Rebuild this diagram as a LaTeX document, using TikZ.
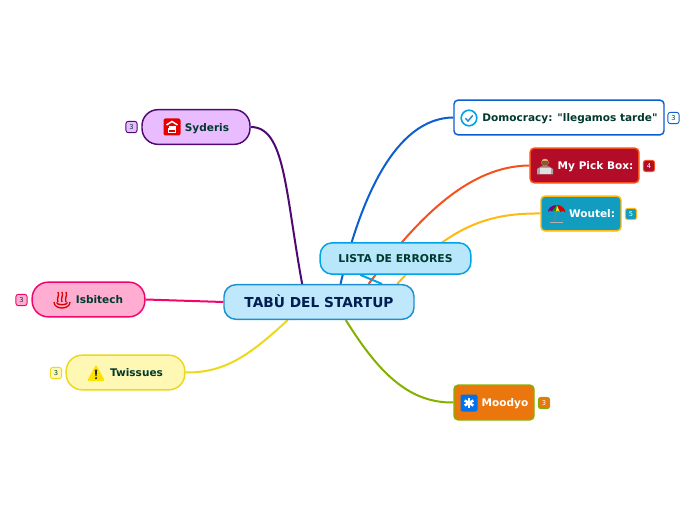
\documentclass[tikz,border=0pt]{standalone}
\usepackage{fontspec}
\setmainfont{DejaVu Sans}
\newfontfamily\straightfont{DejaVu Sans}
\usetikzlibrary{backgrounds}

\definecolor{inkgreen}{HTML}{00392E}
\definecolor{inknavy}{HTML}{001E50}
\definecolor{mainfill}{HTML}{BFE8FC}
\definecolor{mainline}{HTML}{1E90D0}
\definecolor{listafill}{HTML}{B8E6FA}
\definecolor{listaline}{HTML}{00A3E8}
\definecolor{domoline}{HTML}{0B5FD0}
\definecolor{pickline}{HTML}{F4511E}
\definecolor{pickfill}{HTML}{B30C28}
\definecolor{woutelline}{HTML}{FFB90F}
\definecolor{woutelfill}{HTML}{119CC0}
\definecolor{moodyoline}{HTML}{84B000}
\definecolor{moodyofill}{HTML}{EC760E}
\definecolor{syderisline}{HTML}{4E0A72}
\definecolor{syderisfill}{HTML}{E9BBFF}
\definecolor{isbitechline}{HTML}{F0046E}
\definecolor{isbitechfill}{HTML}{FFAED2}
\definecolor{twissuesline}{HTML}{ECD81C}
\definecolor{twissuesfill}{HTML}{FFF8B5}
\newcommand{\iconskip}{\hspace*{16.5pt}}

\tikzset{
    topic/.style={draw, rectangle, rounded corners=#1, line width=1.1pt, font=\bfseries\fontsize{7.9}{10}\selectfont, text=inkgreen, inner sep=0pt, minimum height=26pt, text height=7.2pt, text depth=0.5pt},
    topic/.default=3pt,
    badge/.style={draw, rectangle, rounded corners=1.8pt, line width=0.7pt, minimum size=8.4pt, inner sep=0pt, font=\fontsize{5}{6}\selectfont},
    branch/.style={line width=1.5pt}
}

\begin{document}
\begin{tikzpicture}[x=0.75pt, y=-0.75pt]
    \useasboundingbox (0,0) rectangle (696,520);

    % Centre
    \node[topic=9pt, draw=mainline, fill=mainfill, font=\bfseries\fontsize{10.3}{12}\selectfont, text=inknavy, text height=8.4pt, minimum width=142.5pt] (main) at (319,302) {TABÙ DEL STARTUP};
    \node[topic=9pt, draw=listaline, fill=listafill, font=\bfseries\fontsize{8.1}{10}\selectfont, minimum width=113pt, minimum height=23.5pt] (lista) at (395.5,258.5) {LISTA DE ERRORES};

    % Nodes right
    \node[topic, draw=domoline, fill=white, minimum width=157.5pt] (domo) at (559,117.5) {\iconskip Domocracy: {\straightfont\bfseries"}llegamos tarde{\straightfont\bfseries"}};
    \node[topic, draw=pickline, fill=pickfill, text=white, minimum width=81.5pt] (pick) at (584.5,165.5) {\iconskip My Pick Box:};
    \node[topic, draw=woutelline, fill=woutelfill, text=white, minimum width=60pt] (woutel) at (581,213.5) {\iconskip Woutel:};
    \node[topic, draw=moodyoline, fill=moodyofill, text=white, minimum width=60pt] (moodyo) at (494,402.5) {\iconskip Moodyo};

    % Nodes left
    \node[topic=12pt, draw=syderisline, fill=syderisfill, minimum width=81pt] (syderis) at (196,127) {\iconskip Syderis};
    \node[topic=12pt, draw=isbitechline, fill=isbitechfill, minimum width=84.5pt] (isbitech) at (88.5,299.5) {\iconskip Isbitech};
    \node[topic=12pt, draw=twissuesline, fill=twissuesfill, minimum width=89pt] (twissues) at (125.5,372.5) {\iconskip Twissues};

    % Counters
    \node[badge, draw=domoline, text=inkgreen] (domonum) at (673.5,118) {3};
    \node[badge, draw=pickline, fill=pickfill, text=white] (picknum) at (649,166) {4};
    \node[badge, draw=woutelline, fill=woutelfill, text=white] (woutelnum) at (631,214) {5};
    \node[badge, draw=moodyoline, fill=moodyofill, text=white] (moodyonum) at (544,403) {3};
    \node[badge, draw=syderisline, fill=syderisfill, text=inkgreen] (syderisnum) at (131.5,127) {3};
    \node[badge, draw=isbitechline, fill=isbitechfill, text=inkgreen] (isbitechnum) at (21.5,300) {3};
    \node[badge, draw=twissuesline, fill=twissuesfill, text=inkgreen] (twissuesnum) at (56,373) {3};

    % Connections
    \begin{scope}[on background layer]
        \draw[branch, domoline] (main.40) .. controls (360,200) and (395,118) .. (domo.west);
        \draw[branch, pickline] (main.20) .. controls (420,215) and (470,166) .. (pick.west);
        \draw[branch, woutelline] (main.13) .. controls (450,225) and (490,213) .. (woutel.west);
        \draw[branch, moodyoline] (main.-34) .. controls (380,375) and (410,403) .. (moodyo.west);
        \draw[branch, syderisline] (main.133) .. controls (285,190) and (285,127) .. (syderis.east);
        \draw[branch, isbitechline] (main.west) -- (isbitech.east);
        \draw[branch, twissuesline] (main.-150) .. controls (250,355) and (225,373) .. (twissues.east);
        \draw[branch, listaline] (main.16) -- (lista.205);
    \end{scope}

    % Icons
    \begin{scope}[shift={(469,118)}]
        \draw[listaline, line width=1.2pt, fill=white] (0,0) circle (7.8);
        \draw[mainline, line width=1.1pt] (-3.6,0.2) -- (-1,3) -- (3.8,-2.6);
    \end{scope}
    \begin{scope}[shift={(545,166)}]
        \fill[black!35] (-8,8.5) -- (-8,3) -- (-4,0.5) -- (4,0.5) -- (8,3) -- (8,8.5) -- cycle;
        \fill[black!12] (-5.5,8) rectangle (5.5,2.5);
        \fill[orange!50!brown!60!white] (0,-3.5) circle (3.8);
        \fill[brown!70!black] (-3.8,-4) arc (180:0:3.8) -- (2.5,-5) -- (-2.5,-5) -- cycle;
    \end{scope}
    \begin{scope}[shift={(557,213)}]
        \draw[black!30, line width=0.5pt] (-7,9) -- (6,9);
        \draw[black!50, line width=0.7pt] (-0.5,-3) -- (-2.5,9);
        \fill[violet] (0,-8) .. controls (-5,-8) and (-9,-5) .. (-9,-1) .. controls (-8,-3) and (-6,-3) .. (-5,-1.5) -- cycle;
        \fill[green!60!black] (0,-8) -- (-5,-1.5) .. controls (-4,-3) and (-2,-3) .. (-1,-1.5) -- cycle;
        \fill[yellow!90!orange] (0,-8) -- (-1,-1.5) .. controls (0,-3) and (2,-3) .. (3,-1) -- cycle;
        \fill[red!85!black] (0,-8) .. controls (4,-8) and (8,-5) .. (8.5,-0.5) .. controls (7,-2.5) and (5,-2.5) .. (3,-1) -- cycle;
    \end{scope}
    \begin{scope}[shift={(172,127)}]
        \fill[red!90!black, rounded corners=1.5pt] (-8.5,-8.5) rectangle (8.5,8.5);
        \draw[white, line width=1.1pt] (-5.5,-2) -- (0,-5.5) -- (5.5,-2);
        \draw[white, line width=1pt] (-3.5,0) -- (3.5,0) (-3.5,2) rectangle (3.5,5.5);
    \end{scope}
    \begin{scope}[shift={(62,299)}, red!85!black]
        \draw[line width=1pt] (-8,3) .. controls (-8,11) and (8,11) .. (8,3);
        \draw[line width=1pt] (-5.5,3.5) .. controls (-5,6.5) and (5,6.5) .. (5.5,3.5);
        \foreach \xpos in {-4,0,4} {
            \draw[line width=1pt] (\xpos,3) .. controls (\xpos-2,-1) and (\xpos+2,-3) .. (\xpos,-7);
        }
    \end{scope}
    \begin{scope}[shift={(96,373)}]
        \fill[yellow!85!orange, rounded corners=1pt] (0,-8.5) -- (9,8) -- (-9,8) -- cycle;
        \fill[black!85] (-1.1,-3.5) -- (1.1,-3.5) -- (0.6,3) -- (-0.6,3) -- cycle;
        \fill[black!85] (0,5.2) circle (1.2);
    \end{scope}
    \begin{scope}[shift={(469,403)}]
        \fill[listaline!70!blue, rounded corners=1.5pt] (-8.5,-8.5) rectangle (8.5,8.5);
        \foreach \spoke in {30,90,150} {
            \draw[white, line width=1.8pt] (\spoke:5) -- (\spoke+180:5);
        }
    \end{scope}
\end{tikzpicture}
\end{document}
